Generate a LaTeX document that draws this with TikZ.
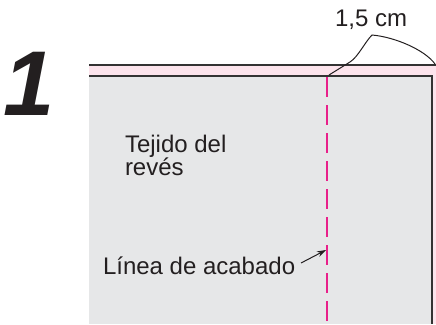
\documentclass[tikz,border=0pt]{standalone}
\usepackage{fontspec}
\setmainfont{Liberation Sans}
\usetikzlibrary{arrows.meta}
\definecolor{fabgray}{HTML}{E6E7E8}
\definecolor{fabpink}{HTML}{FCE4EC}
\definecolor{seam}{HTML}{E8208A}
\definecolor{edge}{HTML}{333333}
\definecolor{ink}{HTML}{231F20}
\tikzset{
  lbl/.style={inner sep=0pt, outer sep=0pt, anchor=base west, font=\fontsize{24}{24}\selectfont, text=ink},
  border/.style={draw=edge, line width=2.3pt},
  leader/.style={draw=ink, line width=1pt},
}
\begin{document}
\begin{tikzpicture}[x=1pt,y=-1pt]
\useasboundingbox (0,0) rectangle (436,324);
% fabric
\fill[fabpink] (89,65) rectangle (436,324);
\fill[fabgray] (89,76) rectangle (432,324);
\draw[border] (89,65) -- (436,65);
\draw[border] (89,76) -- (432,76) -- (432,324);
% seam line
\coordinate (seamtop) at (327,77);
\coordinate (seambot) at (327,324);
\draw[seam, line width=2pt, dash pattern=on 20pt off 8pt] (seamtop) -- (seambot);
% big number
\node[inner sep=0pt, anchor=base west, text=ink, font=\fontsize{92}{92}\selectfont\bfseries\itshape] (num) at (3,115) {1};
% labels
\node[lbl] (tej) at (125,152) {Tejido del};
\node[lbl] (rev) at (125,175) {revés};
\node[lbl] (lin) at (103,274) {Línea de acabado};
\node[lbl] (cm) at (335,27) {1,5 cm};
% arrow to seam
\coordinate (arrS) at (301,263);
\coordinate (arrE) at (326,250);
\draw[leader, -{Stealth[length=9pt,width=6pt]}] (arrS) -- (arrE);
% dimension leader
\coordinate (ldA) at (329,75);
\coordinate (ldB) at (350,62);
\coordinate (ldP) at (372,35);
\coordinate (ldC) at (435,64);
\draw[leader] (ldA) -- (ldB) .. controls (358,57) and (365,42) .. (ldP)
  .. controls (395,37) and (425,50) .. (ldC);
\end{tikzpicture}
\end{document}
